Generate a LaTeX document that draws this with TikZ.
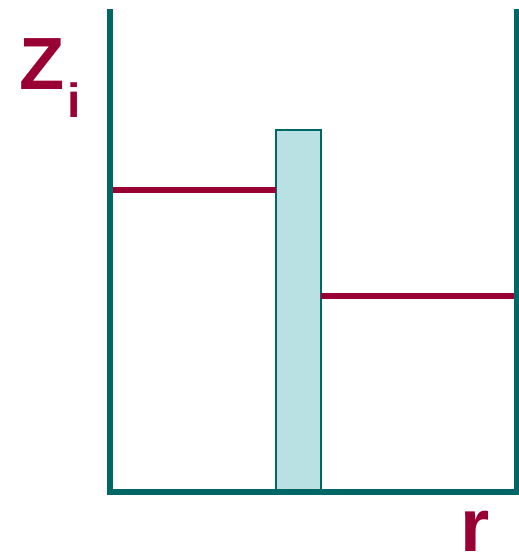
\documentclass[tikz,border=0pt]{standalone}
\usepackage{fontspec}
\setmainfont{Liberation Sans}
\definecolor{axisteal}{HTML}{006666}
\definecolor{levelred}{HTML}{990033}
\definecolor{barfill}{HTML}{B9E0E3}
\begin{document}
\begin{tikzpicture}[x = 1pt, y = -1pt]
		\useasboundingbox (0,0) rectangle (519,555);
		% barrier
		\draw [axisteal, line width = 2pt, fill = barfill] (276,130) rectangle (321,492);
		% levels on both sides
		\draw [levelred, line width = 5.5pt] (110,190) -- (276,190);
		\draw [levelred, line width = 5.5pt] (321,296) -- (517,296);
		% frame
		\draw [axisteal, line width = 5.5pt] (110,9) -- (110,492) -- (517,492) -- (517,9);
		\node (zlab) [levelred, anchor = base west, inner sep = 0pt, font = \fontsize{74}{74}\selectfont\bfseries] at (19,89) {Z};
		\node (ilab) [levelred, anchor = base west, inner sep = 0pt, font = \fontsize{48}{48}\selectfont\bfseries] at (67,117) {i};
		\node (rlab) [levelred, anchor = base west, inner sep = 0pt, font = \fontsize{75}{75}\selectfont\bfseries] at (460,551) {r};
	\end{tikzpicture}
\end{document}
